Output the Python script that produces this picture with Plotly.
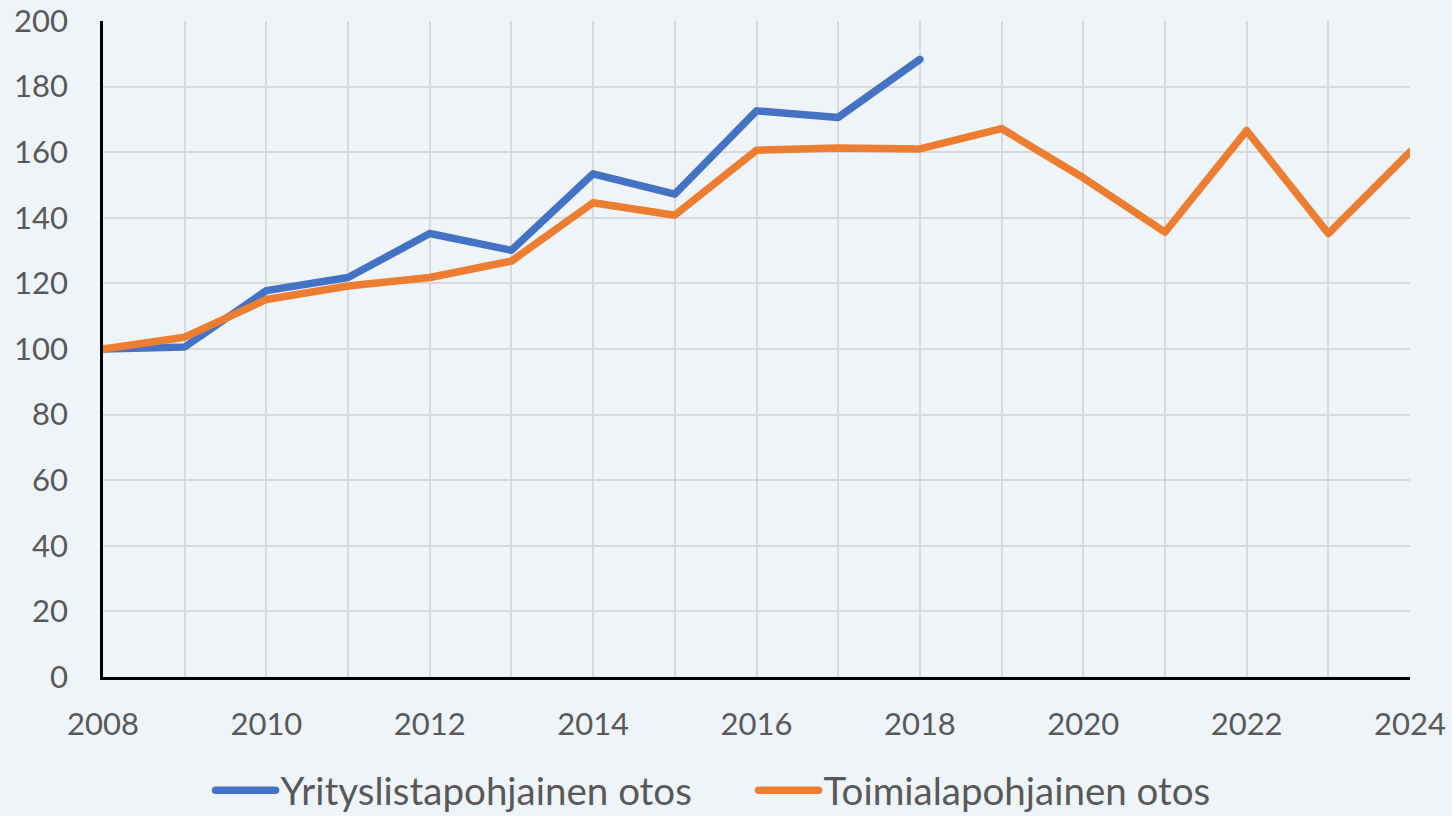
import plotly.graph_objects as go

years = list(range(2008, 2025))
blue_years = list(range(2008, 2019))
yritys = [100, 100.6, 117.8, 121.8, 135.2, 130.1, 153.4, 147.2, 172.6, 170.6, 188.3]
toimiala = [100, 103.6, 115.1, 119.2, 121.8, 126.8, 144.6, 140.8, 160.6, 161.3, 161.0,
            167.2, 152.2, 135.6, 166.6, 135.2, 160.1]
names = ["Yrityslistapohjainen otos", "Toimialapohjainen otos"]

fig = go.Figure()
fig.add_trace(go.Scatter(x=blue_years, y=yritys, mode="lines", name=names[0],
                         line=dict(color="#4472C4", width=7.5), cliponaxis=False))
fig.add_trace(go.Scatter(x=years, y=toimiala, mode="lines", name=names[1],
                         line=dict(color="#ED7D31", width=7.5), cliponaxis=False))

font = "Lato, 'Open Sans', sans-serif"
fig.update_layout(
    width=1452, height=816,
    margin=dict(l=103, r=42, t=21, b=139, autoexpand=False),
    paper_bgcolor="#EFF4F9", plot_bgcolor="#EFF4F9",
    font=dict(family=font, size=31, color="#595959"),
    showlegend=True,
    legend=dict(orientation="h", xref="container", yref="container",
                x=0.145, xanchor="left", y=0.031, yanchor="middle",
                font=dict(size=38.5, color="#595959"), bgcolor="rgba(0,0,0,0)",
                itemwidth=60, entrywidth=468, entrywidthmode="pixels"),
)
fig.update_xaxes(range=[2008, 2024], tickmode="linear", tick0=2008, dtick=2,
                 showgrid=True, gridcolor="#D9D9D9", gridwidth=1.5,
                 minor=dict(dtick=1, showgrid=True, gridcolor="#D9D9D9", gridwidth=1.5),
                 showline=True, linecolor="black", linewidth=2.5,
                 ticks="", ticklabelstandoff=18, zeroline=False, automargin=False)
fig.update_yaxes(range=[0, 200], tickmode="linear", tick0=0, dtick=20,
                 showgrid=True, gridcolor="#D9D9D9", gridwidth=1.5,
                 showline=True, linecolor="black", linewidth=2.5,
                 ticks="", ticklabelstandoff=26, zeroline=False, automargin=False)

post = """
document.body.style.margin='0';
document.body.style.overflow='hidden';
var st=document.createElement('style');
st.textContent='.scatterlayer path.js-line, .legend path.js-line{stroke-linejoin:round;stroke-linecap:round;}';
document.head.appendChild(st);
"""
fig.write_html("out.html", post_script=post, config={"displayModeBar": False})
